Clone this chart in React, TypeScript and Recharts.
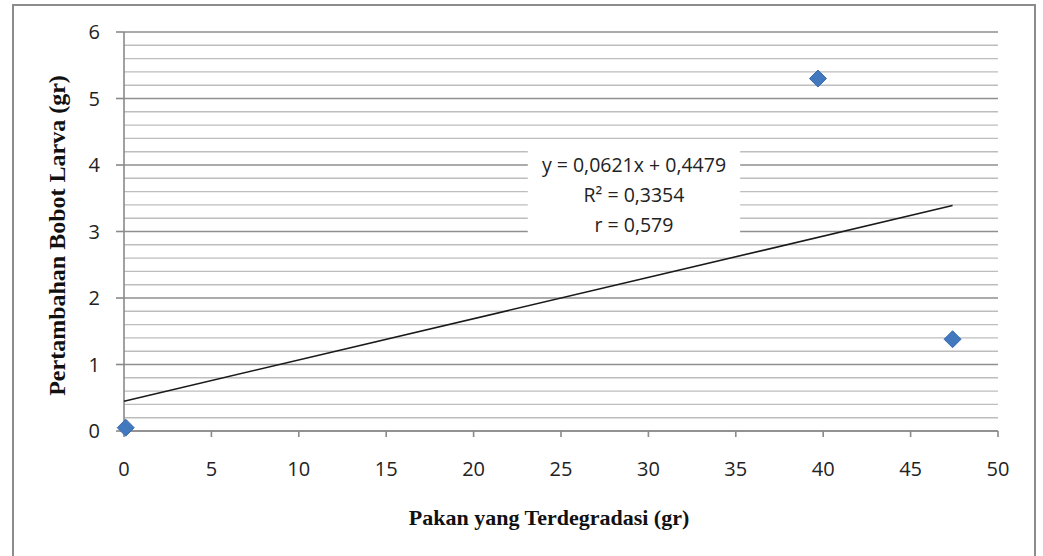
import React from 'react'
import {
  ScatterChart, Scatter, XAxis, YAxis, CartesianGrid, ReferenceArea, ReferenceLine, Label,
} from 'recharts'

// observed points (pakan terdegradasi, pertambahan bobot)
const points = [
  { x: 0.1, y: 0.05 },
  { x: 39.7, y: 5.3 },
  { x: 47.4, y: 1.38 },
]

// linear trend line ends
const trend = [
  { x: 0, y: 0.448 },
  { x: 47.4, y: 3.39 },
]

const xTicks = [0, 5, 10, 15, 20, 25, 30, 35, 40, 45, 50]
const yTicks = [0, 1, 2, 3, 4, 5, 6]
const minorTicks = [
  0.2, 0.4, 0.6, 0.8, 1.2, 1.4, 1.6, 1.8, 2.2, 2.4, 2.6, 2.8,
  3.2, 3.4, 3.6, 3.8, 4.2, 4.4, 4.6, 4.8, 5.2, 5.4, 5.6, 5.8,
]

const equationLines = ['y = 0,0621x + 0,4479', 'R² = 0,3354', 'r = 0,579']

const TICK_FONT = '"Open Sans", "Liberation Sans", sans-serif'
const TITLE_FONT = '"Liberation Serif", "Times New Roman", serif'
const AXIS_GREY = '#8a8a8a'

const Diamond = (props: any) => {
  const { cx, cy } = props
  const r = 8.5
  return (
    <polygon
      points={`${cx},${cy - r} ${cx + r},${cy} ${cx},${cy + r} ${cx - r},${cy}`}
      fill="#4178be"
      stroke="#3a6db0"
      strokeWidth={1}
    />
  )
}

const NoDot = () => null

const EquationBox = (props: any) => {
  const { viewBox } = props
  const cx = viewBox.x + viewBox.width / 2
  return (
    <g>
      {equationLines.map((t, i) => (
        <text
          key={i}
          x={cx}
          y={viewBox.y + 26 + i * 30}
          textAnchor="middle"
          fontFamily={TICK_FONT}
          fontSize={19.5}
          fill="#222"
        >
          {t}
        </text>
      ))}
    </g>
  )
}

export default function App() {
  return (
    <div style={{ position: 'absolute', left: 0, top: 0, width: 1043, height: 556, background: '#fff' }}>
      <div
        style={{
          position: 'absolute', left: 12, top: 4, width: 1024, height: 560,
          border: '2px solid #8c8c8c', boxSizing: 'border-box',
        }}
      />
      <ScatterChart
        width={1043}
        height={556}
        margin={{ top: 32, right: 45, bottom: 0, left: 0 }}
        style={{ position: 'absolute', left: 0, top: 0 }}
      >
        <CartesianGrid horizontal vertical={false} stroke="#8f8f8f" strokeWidth={1.6} />
        <XAxis
          type="number"
          dataKey="x"
          domain={[0, 50]}
          ticks={xTicks}
          height={125}
          tickSize={6}
          tickMargin={25}
          stroke={AXIS_GREY}
          strokeWidth={1.6}
          tick={{ fill: '#222', fontSize: 20, fontFamily: TICK_FONT }}
        >
          <Label
            value="Pakan yang Terdegradasi (gr)"
            position="center"
            dx={-12}
            dy={24}
            fill="#111"
            fontSize={22}
            fontWeight="bold"
            fontFamily={TITLE_FONT}
          />
        </XAxis>
        <YAxis
          type="number"
          dataKey="y"
          domain={[0, 6]}
          ticks={yTicks}
          width={124}
          tickSize={8}
          tickMargin={16}
          stroke={AXIS_GREY}
          strokeWidth={1.6}
          tick={{ fill: '#222', fontSize: 20, fontFamily: TICK_FONT }}
        >
          <Label
            value="Pertambahan Bobot Larva (gr)"
            position="center"
            angle={-90}
            dx={-6}
            dy={4}
            fill="#111"
            fontSize={24}
            fontWeight="bold"
            fontFamily={TITLE_FONT}
          />
        </YAxis>
        {minorTicks.map((v) => (
          <ReferenceLine key={v} y={v} stroke="#bdbdbd" strokeWidth={1.4} zIndex={50} />
        ))}
        <ReferenceArea
          x1={23.1}
          x2={35.25}
          y1={2.9}
          y2={4.29}
          fill="#fff"
          fillOpacity={1}
          stroke="none"
          zIndex={150}
          label={<EquationBox />}
        />
        <Scatter
          data={trend}
          line={{ stroke: '#1a1a1a', strokeWidth: 1.6 }}
          shape={NoDot}
          isAnimationActive={false}
        />
        <Scatter data={points} shape={Diamond} isAnimationActive={false} />
      </ScatterChart>
    </div>
  )
}
